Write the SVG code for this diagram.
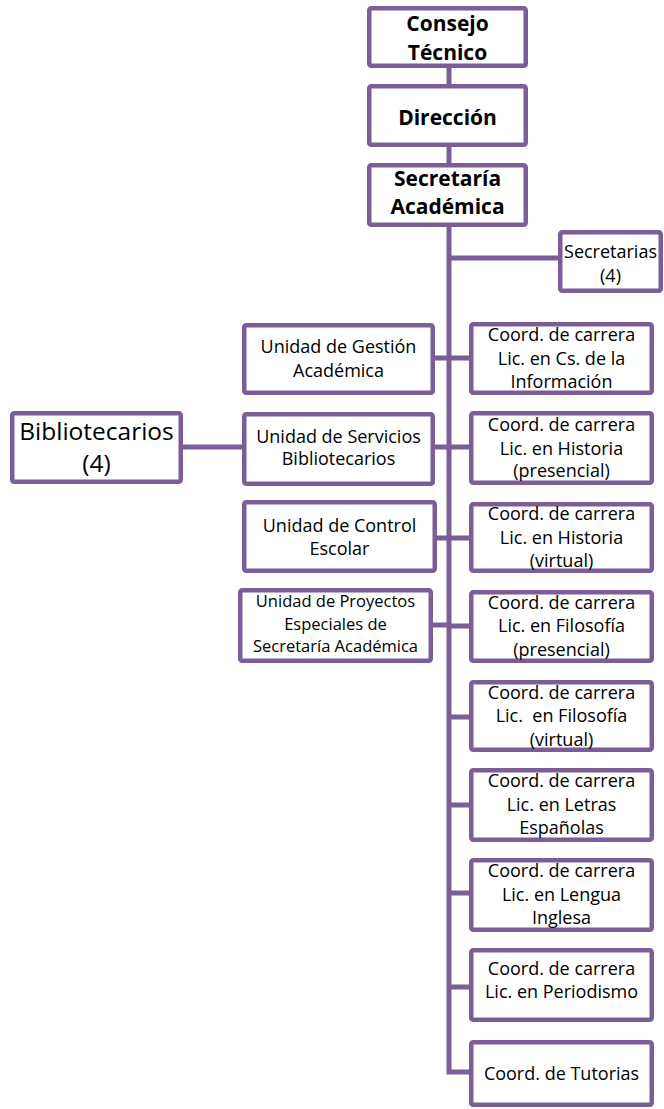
<svg xmlns="http://www.w3.org/2000/svg" width="664" height="1109" viewBox="0 0 664 1109">
<style>
.box{fill:#fff;stroke:#7B5E98;stroke-width:4.5}
.con{fill:none;stroke:#7B5E98;stroke-width:5}
text{font-family:"Open Sans",Lato,sans-serif;fill:#000;text-anchor:middle}
.b{font-weight:bold;font-size:21px}
.n{font-size:18px}
.s{font-size:16.5px}
.t{font-size:18px}
.l{font-size:24.5px}
</style>
<rect width="664" height="1109" fill="#fff"/>
<g id="connectors">
<path class="con" d="M449 68V84M449 147V163"/>
<path class="con" d="M449 227V1072H469"/>
<path class="con" d="M449 258H558"/>
<path class="con" d="M449 358H469M449 447H469M449 538H469M449 626H469M449 717H469M449 805H469M449 893H469M449 987H469"/>
<path class="con" d="M435 358H449M435 447H449M437 538H449M433 625H449"/>
<path class="con" d="M183 447H242"/>
</g>
<g id="consejo"><rect class="box" x="369.25" y="8.25" width="156.5" height="57.5" rx="2"/><text class="b" x="447.5" y="31">Consejo</text><text class="b" x="447.5" y="59.5">Técnico</text></g>
<g id="direccion"><rect class="box" x="369.25" y="86.25" width="156.5" height="58.5" rx="2"/><text class="b" x="447.5" y="125">Dirección</text></g>
<g id="secretaria"><rect class="box" x="369.25" y="165.25" width="156.5" height="59.5" rx="2"/><text class="b" x="447.5" y="185.5">Secretaría</text><text class="b" x="447.5" y="214">Académica</text></g>
<g id="secretarias"><rect class="box" x="560.25" y="232.25" width="100.5" height="58.5" rx="2"/><text class="t" x="610.5" y="258">Secretarias</text><text class="t" x="610.5" y="282">(4)</text></g>
<g id="coord-cs"><rect class="box" x="471.25" y="324.25" width="180.5" height="68.5" rx="2"/><text class="n" x="561.5" y="341">Coord. de carrera</text><text class="n" x="561.5" y="364.5">Lic. en Cs. de la</text><text class="n" x="561.5" y="388">Información</text></g>
<g id="coord-hist-p"><rect class="box" x="471.25" y="413.25" width="180.5" height="69.5" rx="2"/><text class="n" x="561.5" y="431">Coord. de carrera</text><text class="n" x="561.5" y="454.5">Lic. en Historia</text><text class="n" x="561.5" y="477">(presencial)</text></g>
<g id="coord-hist-v"><rect class="box" x="471.25" y="504.25" width="180.5" height="66.5" rx="2"/><text class="n" x="561.5" y="520">Coord. de carrera</text><text class="n" x="561.5" y="543.5">Lic. en Historia</text><text class="n" x="561.5" y="567">(virtual)</text></g>
<g id="coord-filo-p"><rect class="box" x="471.25" y="592.25" width="180.5" height="68.5" rx="2"/><text class="n" x="561.5" y="608.5">Coord. de carrera</text><text class="n" x="561.5" y="632">Lic. en Filosofía</text><text class="n" x="561.5" y="655.5">(presencial)</text></g>
<g id="coord-filo-v"><rect class="box" x="471.25" y="682.25" width="180.5" height="67.5" rx="2"/><text class="n" x="561.5" y="698.5">Coord. de carrera</text><text class="n" x="561.5" y="722" xml:space="preserve">Lic.  en Filosofía</text><text class="n" x="561.5" y="745.5">(virtual)</text></g>
<g id="coord-letras"><rect class="box" x="471.25" y="770.25" width="180.5" height="69.5" rx="2"/><text class="n" x="561.5" y="787">Coord. de carrera</text><text class="n" x="561.5" y="810.5">Lic. en Letras</text><text class="n" x="561.5" y="834">Españolas</text></g>
<g id="coord-ingles"><rect class="box" x="471.25" y="860.25" width="180.5" height="69.5" rx="2"/><text class="n" x="561.5" y="877">Coord. de carrera</text><text class="n" x="561.5" y="900.5">Lic. en Lengua</text><text class="n" x="561.5" y="924">Inglesa</text></g>
<g id="coord-period"><rect class="box" x="471.25" y="950.25" width="180.5" height="69.5" rx="2"/><text class="n" x="561.5" y="975">Coord. de carrera</text><text class="n" x="561.5" y="998">Lic. en Periodismo</text></g>
<g id="coord-tutorias"><rect class="box" x="471.25" y="1042.25" width="180.5" height="62.5" rx="2"/><text class="n" x="561.5" y="1080">Coord. de Tutorias</text></g>
<g id="unidad-gestion"><rect class="box" x="244.25" y="325.25" width="188.5" height="67.5" rx="2"/><text class="n" x="338.5" y="353">Unidad de Gestión</text><text class="n" x="338.5" y="377">Académica</text></g>
<g id="unidad-servicios"><rect class="box" x="244.25" y="414.25" width="188.5" height="69.5" rx="2"/><text class="n" x="338.5" y="443">Unidad de Servicios</text><text class="n" x="338.5" y="465">Bibliotecarios</text></g>
<g id="unidad-control"><rect class="box" x="244.25" y="502.25" width="190.5" height="68.5" rx="2"/><text class="n" x="339.5" y="532">Unidad de Control</text><text class="n" x="339.5" y="555">Escolar</text></g>
<g id="unidad-proyectos"><rect class="box" x="240.25" y="590.25" width="190.5" height="70.5" rx="2"/><text class="s" x="335.5" y="607">Unidad de Proyectos</text><text class="s" x="335.5" y="630">Especiales de</text><text class="s" x="335.5" y="652">Secretaría Académica</text></g>
<g id="bibliotecarios"><rect class="box" x="12.25" y="413.25" width="168.5" height="68.5" rx="2"/><text class="l" x="96.5" y="440">Bibliotecarios</text><text class="l" x="96.5" y="472">(4)</text></g>
</svg>
